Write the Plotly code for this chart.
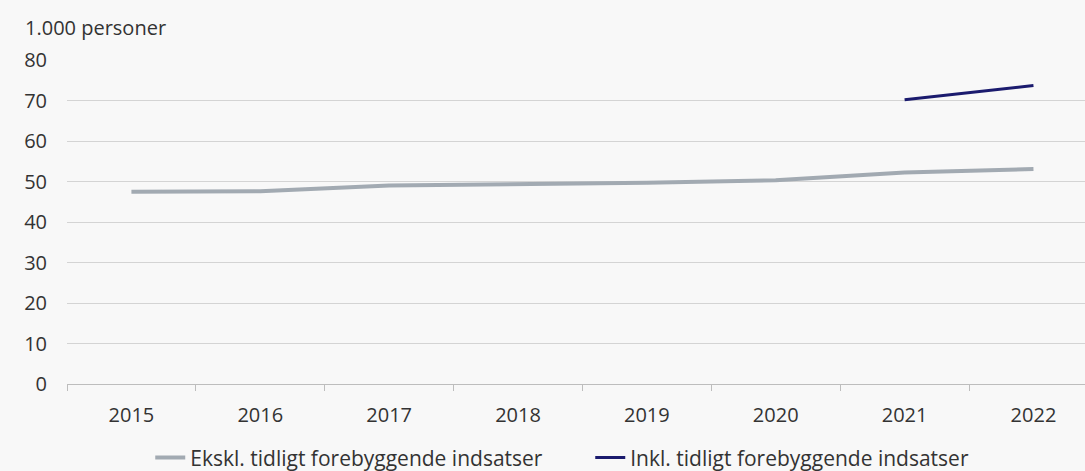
import plotly.graph_objects as go

years = ["2015", "2016", "2017", "2018", "2019", "2020", "2021", "2022"]
ekskl = [47.5, 47.6, 49.0, 49.3, 49.7, 50.3, 52.2, 53.1]
inkl = [None, None, None, None, None, None, 70.2, 73.7]
yticks = [0, 10, 20, 30, 40, 50, 60, 70, 80]

FONT = "Open Sans"
BG = "#f8f8f8"
fig = go.Figure()
fig.add_trace(go.Scatter(x=years, y=ekskl, mode="lines", name="Ekskl. tidligt forebyggende indsatser",
                         line=dict(color="#a2aab2", width=4)))
fig.add_trace(go.Scatter(x=years, y=inkl, mode="lines", name="Inkl. tidligt forebyggende indsatser",
                         line=dict(color="#1b1b6e", width=3)))

fig.update_layout(
    width=1085, height=471,
    margin=dict(l=67, r=0, t=60, b=87, autoexpand=False),
    paper_bgcolor=BG, plot_bgcolor=BG,
    font=dict(family=FONT, size=20, color="#333333"),
    showlegend=True,
    legend=dict(orientation="h", x=0.514, xanchor="center", y=-0.228, yanchor="middle",
                font=dict(size=21, color="#333333"), bgcolor="rgba(0,0,0,0)",
                itemwidth=30, entrywidth=395, tracegroupgap=0),
    annotations=[dict(text="1.000 personer", xref="paper", yref="paper", x=-0.0433, y=1.054,
                      xanchor="left", yanchor="bottom", showarrow=False,
                      font=dict(size=20, color="#333333"))],
)
fig.update_xaxes(type="category", range=[-0.5, 7.4], showgrid=False,
                 showline=True, linecolor="#bdbdbd", linewidth=1,
                 ticks="outside", tickson="boundaries", ticklen=6, tickcolor="#bdbdbd",
                 ticklabelstandoff=13)
fig.update_yaxes(range=[0, 80], tickvals=yticks, showgrid=True, gridcolor="#d4d4d4", gridwidth=1,
                 zeroline=False, showline=False, ticks="", ticklabelstandoff=19)

fig.write_html("out.html", config={"displayModeBar": False},
               post_script="document.body.style.margin='0';document.body.style.background='%s';" % BG)
